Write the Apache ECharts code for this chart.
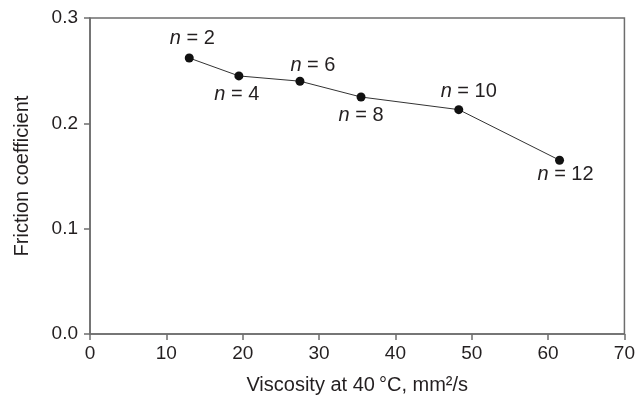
<!DOCTYPE html>
<html><head><meta charset="utf-8">
<script src="https://cdn.jsdelivr.net/npm/echarts@6/dist/echarts.min.js"></script>
<style>html,body{margin:0;padding:0;background:#fff}#c{width:638px;height:401px}</style>
</head><body><div id="c"></div>
<script>
const viscosity = [13.0, 19.5, 27.5, 35.5, 48.3, 61.5];
const friction = [0.262, 0.245, 0.240, 0.225, 0.213, 0.165];
const nValues = ['2', '4', '6', '8', '10', '12'];
const xTicks = [0, 10, 20, 30, 40, 50, 60, 70];
const yTicks = [0.0, 0.1, 0.2, 0.3];

const labelOffsets = [[3, -20], [-2, 19], [13, -16], [0, 18], [10, -18], [6, 14]];
const txt = '#231f20';
const axisCol = '#6d6d6d';
const font = 'Liberation Sans, Arial, Helvetica, sans-serif';
const fs = 20;

const chart = echarts.init(document.getElementById('c'), null, {renderer: 'canvas'});
const data = viscosity.map((v, i) => ({
  value: [v, friction[i]],
  label: {offset: labelOffsets[i], formatter: '{i|n} = ' + nValues[i]}
}));
chart.setOption({
  animation: false,
  backgroundColor: '#fff',
  grid: {left: 90, right: 12, top: 18, bottom: 67, show: true, borderColor: axisCol, borderWidth: 1.5},
  xAxis: {
    type: 'value', min: 0, max: 70, interval: 10,
    name: 'Viscosity at 40\u2009°C, mm²/s', nameLocation: 'middle', nameGap: 41,
    nameTextStyle: {color: txt, fontSize: fs, fontFamily: font},
    axisLine: {show: true, lineStyle: {color: axisCol, width: 1.5}},
    axisTick: {show: true, inside: false, length: 6, lineStyle: {color: axisCol, width: 1.5}},
    axisLabel: {color: txt, fontSize: 19, fontFamily: font, margin: 10,
      formatter: v => xTicks.includes(v) ? String(v) : ''},
    splitLine: {show: false}
  },
  yAxis: {
    type: 'value', min: 0, max: 0.3, interval: 0.1,
    name: 'Friction coefficient', nameLocation: 'middle', nameGap: 58,
    nameTextStyle: {color: txt, fontSize: fs, fontFamily: font},
    axisLine: {show: true, lineStyle: {color: axisCol, width: 1.5}},
    axisTick: {show: true, inside: false, length: 6, lineStyle: {color: axisCol, width: 1.5}},
    axisLabel: {color: txt, fontSize: 19, fontFamily: font, margin: 12,
      formatter: v => { const t = yTicks.find(y => Math.abs(y - v) < 1e-9); return t === undefined ? '' : t.toFixed(1); }},
    splitLine: {show: false}
  },
  series: [{
    type: 'line',
    data: data,
    symbol: 'circle', symbolSize: 9,
    itemStyle: {color: '#111'},
    lineStyle: {color: '#333', width: 1},
    label: {
      show: true, position: 'inside', align: 'center', verticalAlign: 'middle',
      color: txt, fontSize: fs, fontFamily: font,
      rich: {i: {fontStyle: 'italic', fontSize: fs, color: txt, fontFamily: font}}
    }
  }]
});
</script></body></html>
